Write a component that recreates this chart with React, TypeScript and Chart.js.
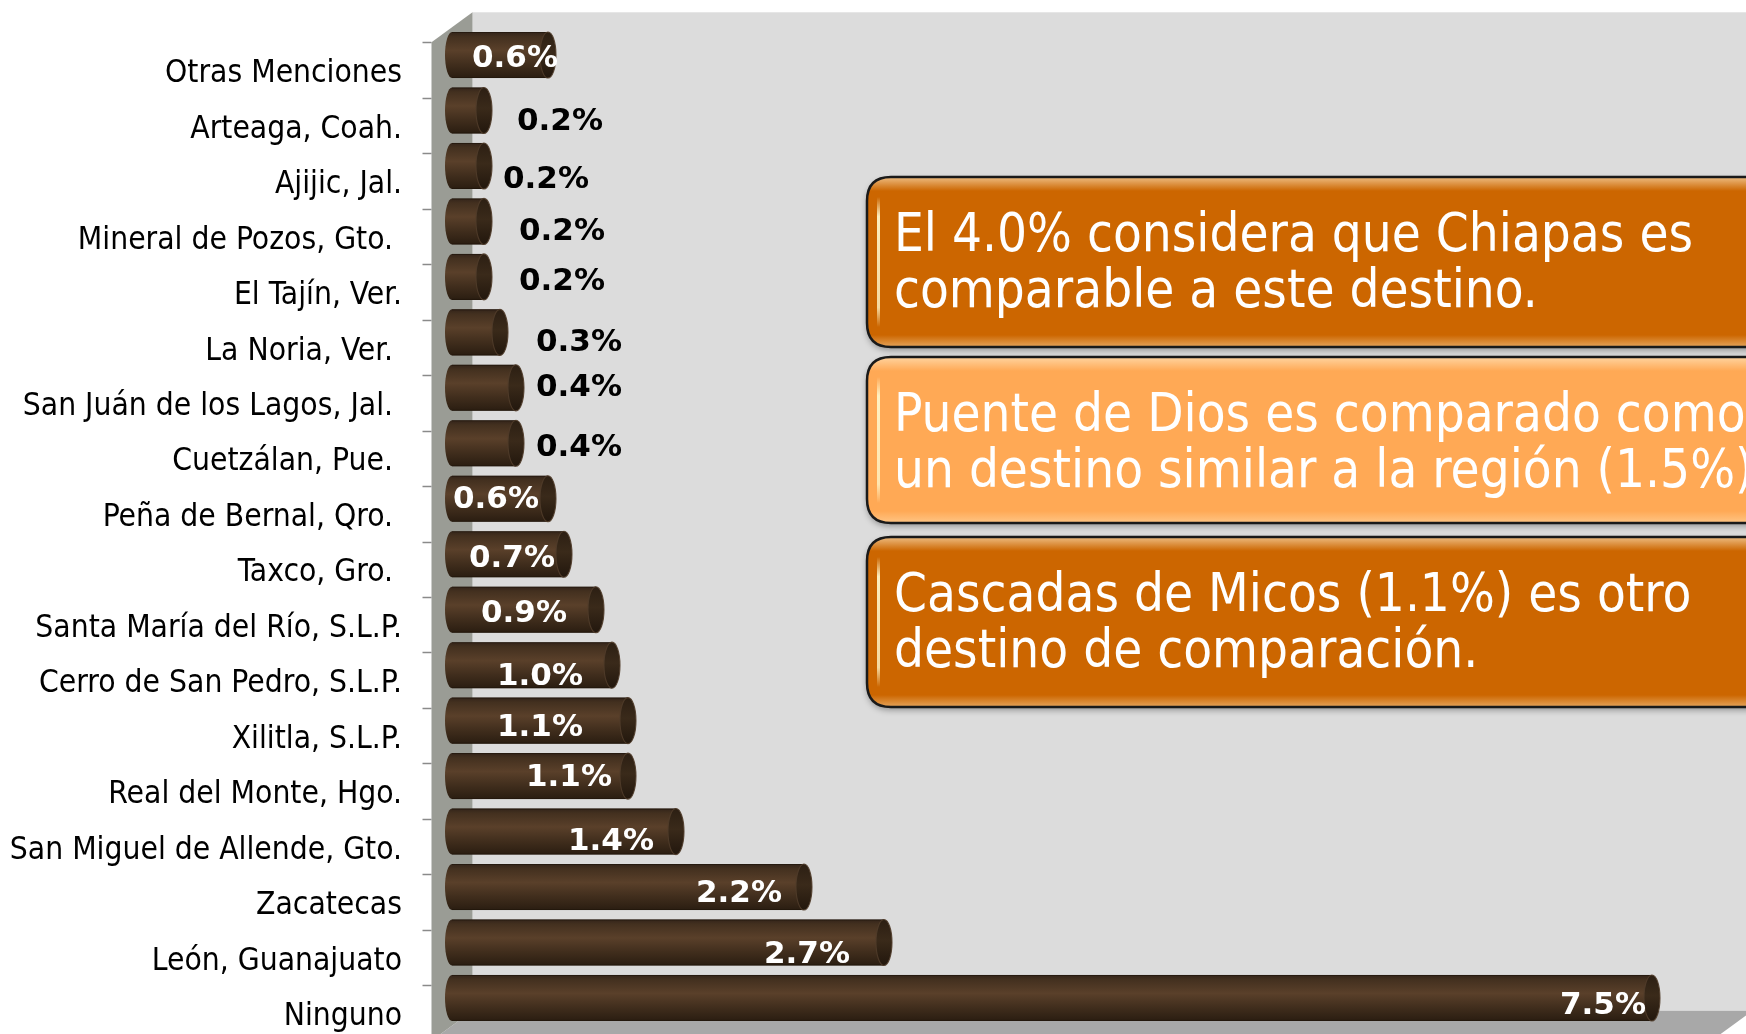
import React, { useEffect, useRef } from "react";
import { Chart, registerables } from "chart.js";

Chart.register(...registerables);

// ---------------- data ----------------
const categories = [
  "Otras Menciones",
  "Arteaga, Coah.",
  "Ajijic, Jal.",
  "Mineral de Pozos, Gto. ",
  "El Tajín, Ver.",
  "La Noria, Ver. ",
  "San Juán de los Lagos, Jal. ",
  "Cuetzálan, Pue. ",
  "Peña de Bernal, Qro. ",
  "Taxco, Gro. ",
  "Santa María del Río, S.L.P.",
  "Cerro de San Pedro, S.L.P.",
  "Xilitla, S.L.P.",
  "Real del Monte, Hgo.",
  "San Miguel de Allende, Gto.",
  "Zacatecas",
  "León, Guanajuato",
  "Ninguno",
];
const values = [0.6, 0.2, 0.2, 0.2, 0.2, 0.3, 0.4, 0.4, 0.6, 0.7, 0.9, 1.0, 1.1, 1.1, 1.4, 2.2, 2.7, 7.5];
const valueLabels = ["0.6%", "0.2%", "0.2%", "0.2%", "0.2%", "0.3%", "0.4%", "0.4%", "0.6%", "0.7%", "0.9%", "1.0%", "1.1%", "1.1%", "1.4%", "2.2%", "2.7%", "7.5%"];

const noteLines = [
  ["El 4.0% considera que Chiapas es", "comparable a este destino."],
  ["Puente de Dios es comparado como", "un destino similar a la región (1.5%)"],
  ["Cascadas de Micos (1.1%) es otro", "destino de comparación."],
];

// ---------------- style / layout ----------------
const labelNudgeX = [-76, 33, 19, 35, 35, 36, 20, 20, -95, -95, -115, -115, -131, -102, -108, -108, -120, -92];
const labelNudgeY = [1, 8, 11, 8, 2, 8, -3, 2, -2, 2, 1, 9, 4, -1, 7, 4, 9, 5];
const noteTops = [177, 357, 537];
const noteHeights = [170, 166, 170];
const noteFills = ["#CC6600", "#FFA955", "#CC6600"];
const NOTE_LEFT = 867;

const W = 1746;
const H = 1034;
const DX = 20.5;
const DY = 15;
const BAR_PCT = 0.83;
const CAP_RX = 8;
const CONDENSED = "'DejaVu Sans Condensed', 'DejaVu Sans', sans-serif";

function barGradient(ctx: CanvasRenderingContext2D, top: number, bottom: number) {
  const g = ctx.createLinearGradient(0, top, 0, bottom);
  g.addColorStop(0, "#33241a");
  g.addColorStop(0.1, "#43301f");
  g.addColorStop(0.4, "#5a402a");
  g.addColorStop(0.7, "#412e1d");
  g.addColorStop(1, "#2a1d11");
  return g;
}

function poly(ctx: CanvasRenderingContext2D, pts: number[][], fill: string) {
  ctx.beginPath();
  ctx.moveTo(pts[0][0], pts[0][1]);
  for (let i = 1; i < pts.length; i++) ctx.lineTo(pts[i][0], pts[i][1]);
  ctx.closePath();
  ctx.fillStyle = fill;
  ctx.fill();
}

const framePlugin = {
  id: "frame3d",
  beforeDraw(chart: any) {
    const { ctx, chartArea: a, width, height } = chart;
    const L = a.left, R = a.right, T = a.top, B = a.bottom;
    ctx.save();
    ctx.fillStyle = "#ffffff";
    ctx.fillRect(0, 0, width, height);
    ctx.fillStyle = "#DCDCDC";
    ctx.fillRect(L + DX, T - DY, width - (L + DX) + 60, B - T);
    poly(ctx, [[L + DX, B - DY], [R + DX, B - DY], [R - DX, B + DY], [L - DX, B + DY]], "#A8A8A8");
    poly(ctx, [[L - DX, T + DY], [L + DX, T - DY], [L + DX, B - DY], [L - DX, B + DY]], "#9A9C95");
    const n = categories.length;
    const step = (B - T) / n;
    ctx.strokeStyle = "#8a8a8a";
    ctx.lineWidth = 1.5;
    for (let i = 0; i <= n; i++) {
      const y = Math.round(T + DY + i * step) + 0.5;
      ctx.beginPath();
      ctx.moveTo(L - DX - 9, y);
      ctx.lineTo(L - DX, y);
      ctx.stroke();
    }
    ctx.restore();
  },
};

const cylinderPlugin = {
  id: "cylinders",
  afterDatasetsDraw(chart: any) {
    const { ctx } = chart;
    const meta = chart.getDatasetMeta(0);
    ctx.save();
    meta.data.forEach((el: any) => {
      const { x, y, base, height } = el.getProps(["x", "y", "base", "height"], true);
      if (![x, y, base, height].every((v) => Number.isFinite(v))) return;
      const top = y - height / 2;
      const bottom = y + height / 2;
      ctx.beginPath();
      ctx.ellipse(base, y, CAP_RX - 1, height / 2, 0, Math.PI / 2, (3 * Math.PI) / 2);
      ctx.closePath();
      ctx.fillStyle = barGradient(ctx, top, bottom);
      ctx.fill();
      ctx.strokeStyle = "rgba(30,20,10,0.6)";
      ctx.lineWidth = 1;
      ctx.beginPath();
      ctx.moveTo(base, top + 0.5);
      ctx.lineTo(x, top + 0.5);
      ctx.moveTo(base, bottom - 0.5);
      ctx.lineTo(x, bottom - 0.5);
      ctx.stroke();
      ctx.beginPath();
      ctx.ellipse(x, y, CAP_RX, height / 2, 0, 0, Math.PI * 2);
      const g = ctx.createLinearGradient(0, top, 0, bottom);
      g.addColorStop(0, "#2c1f13");
      g.addColorStop(0.45, "#3a2a1a");
      g.addColorStop(1, "#22170d");
      ctx.fillStyle = g;
      ctx.fill();
      ctx.strokeStyle = "rgba(80,60,42,0.9)";
      ctx.lineWidth = 1.1;
      ctx.stroke();
    });
    ctx.font = "bold 31px 'DejaVu Sans', sans-serif";
    ctx.textAlign = "left";
    ctx.textBaseline = "alphabetic";
    meta.data.forEach((el: any, i: number) => {
      const { x, y } = el.getProps(["x", "y"], true);
      ctx.fillStyle = values[i] >= 0.5 ? "#ffffff" : "#000000";
      ctx.fillText(valueLabels[i], x + labelNudgeX[i], y + labelNudgeY[i] + 11);
    });
    ctx.restore();
  },
};

function roundRectPath(ctx: CanvasRenderingContext2D, x: number, y: number, w: number, h: number, r: number) {
  ctx.beginPath();
  ctx.moveTo(x + r, y);
  ctx.lineTo(x + w - r, y);
  ctx.quadraticCurveTo(x + w, y, x + w, y + r);
  ctx.lineTo(x + w, y + h - r);
  ctx.quadraticCurveTo(x + w, y + h, x + w - r, y + h);
  ctx.lineTo(x + r, y + h);
  ctx.quadraticCurveTo(x, y + h, x, y + h - r);
  ctx.lineTo(x, y + r);
  ctx.quadraticCurveTo(x, y, x + r, y);
  ctx.closePath();
}

const notesPlugin = {
  id: "notes",
  afterDraw(chart: any) {
    const { ctx, width } = chart;
    noteLines.forEach((lines, k) => {
      const x = NOTE_LEFT;
      const y = noteTops[k];
      const h = noteHeights[k];
      const w = width - x + 60;
      ctx.save();
      ctx.shadowColor = "rgba(0,0,0,0.35)";
      ctx.shadowBlur = 6;
      ctx.shadowOffsetY = 3;
      roundRectPath(ctx, x, y, w, h, 24);
      ctx.fillStyle = noteFills[k];
      ctx.fill();
      ctx.restore();

      ctx.save();
      roundRectPath(ctx, x, y, w, h, 24);
      ctx.clip();
      let g = ctx.createLinearGradient(0, y, 0, y + 14);
      g.addColorStop(0, "rgba(255,235,200,0.65)");
      g.addColorStop(1, "rgba(255,235,200,0)");
      ctx.fillStyle = g;
      ctx.fillRect(x, y, w, 14);
      g = ctx.createLinearGradient(0, y + h - 12, 0, y + h);
      g.addColorStop(0, "rgba(255,225,180,0)");
      g.addColorStop(1, "rgba(255,225,180,0.5)");
      ctx.fillStyle = g;
      ctx.fillRect(x, y + h - 12, w, 12);
      g = ctx.createLinearGradient(0, y + 20, 0, y + h - 20);
      g.addColorStop(0, "rgba(255,250,210,0)");
      g.addColorStop(0.15, "rgba(255,245,200,0.95)");
      g.addColorStop(0.85, "rgba(255,245,200,0.8)");
      g.addColorStop(1, "rgba(255,250,210,0)");
      ctx.fillStyle = g;
      ctx.fillRect(x + 10, y + 20, 3, h - 40);
      ctx.restore();

      ctx.save();
      roundRectPath(ctx, x, y, w, h, 24);
      ctx.strokeStyle = "#1a1a1a";
      ctx.lineWidth = 2.5;
      ctx.stroke();
      ctx.fillStyle = "#ffffff";
      ctx.font = `52.5px ${CONDENSED}`;
      ctx.textAlign = "left";
      ctx.textBaseline = "alphabetic";
      ctx.fillText(lines[0], x + 27, y + 74);
      ctx.fillText(lines[1], x + 27, y + 130);
      ctx.restore();
    });
  },
};

export default function App() {
  const ref = useRef<HTMLCanvasElement | null>(null);

  useEffect(() => {
    const canvas = ref.current;
    if (!canvas) return;
    const chart = new Chart(canvas, {
      type: "bar",
      data: {
        labels: categories,
        datasets: [
          {
            data: values,
            barPercentage: BAR_PCT,
            categoryPercentage: 1,
            borderWidth: 0,
            backgroundColor: (c: any) => {
              const fallback = "#4a3424";
              if (!c || c.type !== "data") return fallback;
              const ys = c.chart && c.chart.scales ? c.chart.scales.y : null;
              if (!ys || !Number.isFinite(ys.height) || ys.height <= 0) return fallback;
              const step = ys.height / categories.length;
              const yc = ys.getPixelForValue(c.dataIndex);
              const hh = (step * BAR_PCT) / 2;
              if (!Number.isFinite(yc) || !Number.isFinite(hh)) return fallback;
              return barGradient(c.chart.ctx, yc - hh, yc + hh);
            },
          },
        ],
      },
      options: {
        indexAxis: "y",
        responsive: false,
        animation: false,
        devicePixelRatio: 1,
        layout: { padding: { top: 27.3, bottom: 8.3, left: 0, right: 14 } },
        plugins: { legend: { display: false }, tooltip: { enabled: false }, title: { display: false } },
        scales: {
          x: { display: false, min: 0, max: 8 },
          y: {
            offset: true,
            grid: { display: false, drawTicks: false },
            border: { display: false },
            afterFit: (scale: any) => {
              scale.width = 452;
              scale.paddingTop = 0;
              scale.paddingBottom = 0;
            },
            ticks: {
              autoSkip: false,
              padding: 50,
              labelOffset: 19,
              color: "#000000",
              font: { family: CONDENSED, size: 31.5 },
            },
          },
        },
      },
      plugins: [framePlugin, cylinderPlugin, notesPlugin],
    } as any);
    return () => chart.destroy();
  }, []);

  return (
    <div style={{ position: "fixed", left: 0, top: 0, width: W, height: H, overflow: "hidden", background: "#fff" }}>
      <canvas ref={ref} width={W} height={H} style={{ width: W, height: H, display: "block" }} />
    </div>
  );
}
